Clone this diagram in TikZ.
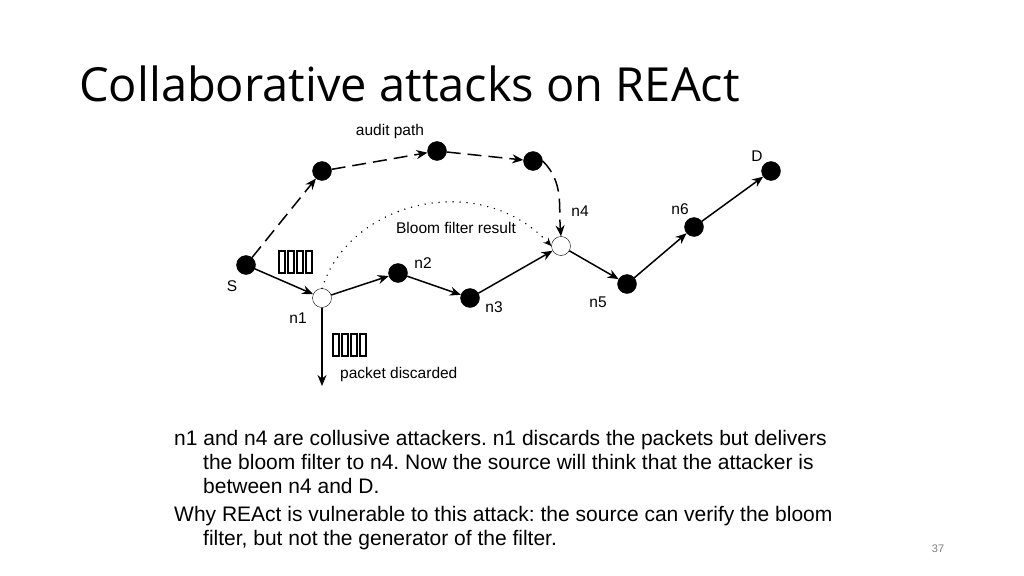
\documentclass[tikz,border=0pt]{standalone}
\usepackage{fontspec}
\setmainfont{Liberation Sans}
\newfontfamily\titlefont{Open Sans}
\usetikzlibrary{arrows.meta}
\begin{document}
\frenchspacing
\begin{tikzpicture}[x=1pt,y=-1pt,
  blk/.style={circle,fill=black,draw=black,minimum size=19pt,inner sep=0pt},
  opn/.style={circle,fill=white,draw=black,minimum size=19pt,inner sep=0pt},
  ar/.style={-{Stealth[length=11pt,width=9pt]},line width=1.5pt},
  da/.style={ar,dash pattern=on 14pt off 7pt},
  lab/.style={font=\fontsize{15.5}{18}\selectfont,inner sep=0pt},
  pk/.style={draw=black,line width=1.2pt,minimum width=6pt,minimum height=22pt,inner sep=0pt}]
\useasboundingbox (0,0) rectangle (1024,575);
\node[anchor=base west,inner sep=0pt,font=\titlefont\fontsize{47}{54}\selectfont] (title) at (79,102) {Collaborative attacks on REAct};
\node[blk] (S) at (246,265) {};
\node[blk] (a1) at (322,171) {};
\node[blk] (a2) at (437,151) {};
\node[blk] (a3) at (533,161) {};
\node[opn] (n1) at (322,298) {};
\node[blk] (n2) at (398,273) {};
\node[blk] (n3) at (470,298) {};
\node[opn] (n4) at (561,246) {};
\node[blk] (n5) at (627,284) {};
\node[blk] (n6) at (694,227) {};
\node[blk] (D) at (771,171) {};
\coordinate (drop) at (322,386);
\draw[da] (S) -- (a1);
\draw[da] (a1) -- (a2);
\draw[da] (a2) -- (a3);
\draw[da] (a3.east) to[out=-45,in=95] (n4.north);
\draw[ar] (S) -- (n1);
\draw[ar] (n1) -- (n2);
\draw[ar] (n2) -- (n3);
\draw[ar] (n3) -- (n4);
\draw[ar] (n4) -- (n5);
\draw[ar] (n5) -- (n6);
\draw[ar] (n6) -- (D);
\draw[ar] (n1) -- (drop);
\draw[line width=1.6pt,line cap=round,dash pattern=on 0pt off 7pt,-{Stealth[length=8pt,width=7pt]}] (n1.north) .. controls (350,200) and (480,170) .. (n4.west);
\foreach \i/\x in {1/282,2/291,3/300,4/309}{\node[pk] (p\i) at (\x,262) {};}
\foreach \i/\x in {1/336,2/345,3/354,4/363}{\node[pk] (q\i) at (\x,345) {};}
\node[lab] (tS) at (232,286) {S};
\node[lab] (tn1) at (298,318) {n1};
\node[lab] (tn2) at (423,263) {n2};
\node[lab] (tn3) at (494,307) {n3};
\node[lab] (tn4) at (580,211) {n4};
\node[lab] (tn5) at (598,302) {n5};
\node[lab] (tn6) at (680,209) {n6};
\node[lab] (tD) at (757,156) {D};
\node[lab] (tap) at (390,131) {audit path};
\node[lab] (tbf) at (456,228) {Bloom filter result};
\node[lab,anchor=west] (tpd) at (340,374) {packet discarded};
\node[anchor=north west,inner sep=0pt,align=left,font=\fontsize{21}{24}\selectfont] (body) at (174,430) {%
n1 and n4 are collusive attackers. n1 discards the packets but delivers\\
\hspace*{29pt}the bloom filter to n4. Now the source will think that the attacker is\\
\hspace*{29pt}between n4 and D.\\[4pt]
Why REAct is vulnerable to this attack: the source can verify the bloom\\
\hspace*{29pt}filter, but not the generator of the filter.};
\node[font=\fontsize{11}{13}\selectfont,text=gray] (pg) at (938,549) {37};
\end{tikzpicture}
\end{document}
